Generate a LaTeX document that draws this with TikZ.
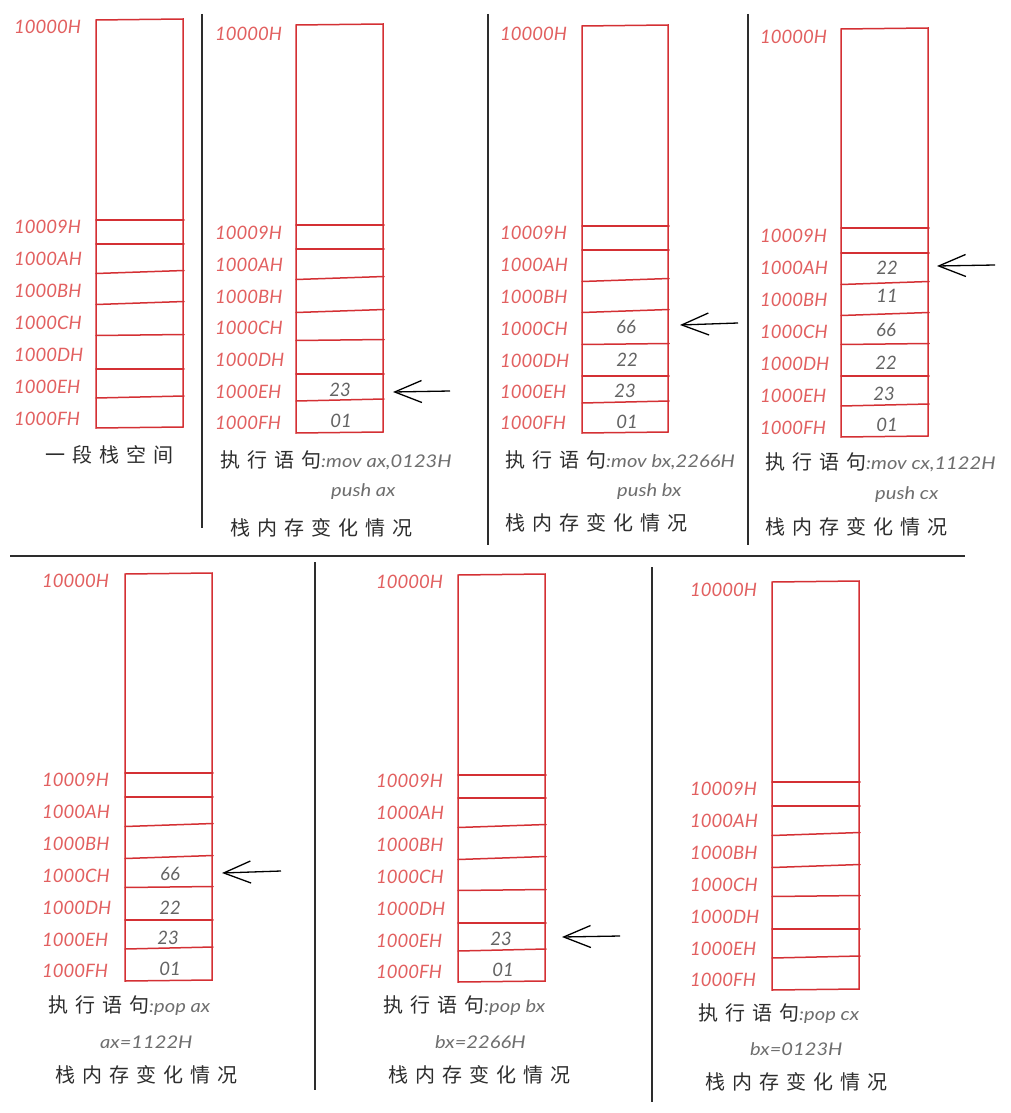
\documentclass[tikz,border=0pt]{standalone}
\usepackage{fontspec}
\usetikzlibrary{arrows.meta}
\newfontfamily\cjk{Noto Sans CJK SC}
\newfontfamily\hand{Lato}
\newfontfamily\handwide{Lato}[FakeStretch=1.15]
\definecolor{cellred}{RGB}{212,48,52}
\definecolor{addrred}{RGB}{226,96,96}
\definecolor{valgray}{RGB}{100,100,100}
\definecolor{inkblack}{RGB}{45,45,45}
\definecolor{codegray}{RGB}{110,110,110}
\newcommand\zh[1]{{\cjk\fontsize{20}{20}\selectfont\color{inkblack}#1}}
\newcommand\cd[1]{{\handwide\itshape\fontsize{17.5}{17.5}\selectfont\color{codegray}#1}}
\newcommand\gp{\hspace{7pt}}
\newcommand\addrtxt[1]{\ifcase#1\or 10000H\or 10009H\or 1000AH\or 1000BH\or 1000CH\or 1000DH\or 1000EH\or 1000FH\fi}
\tikzset{
  cell/.style={draw=cellred, line width=1.5pt, line cap=round},
  addr/.style={anchor=west, inner sep=0pt, text=addrred, font=\hand\itshape\fontsize{18.5}{18.5}\selectfont},
  val/.style={inner sep=0pt, text=valgray, font=\hand\itshape\fontsize{18.5}{18.5}\selectfont},
  capt/.style={anchor=west, inner sep=0pt},
  divider/.style={draw=inkblack, line width=1.4pt},
  harrow/.style={draw=black, line width=1.3pt, -{Straight Barb[length=27pt,width=22pt,line width=1.3pt]}}
}
% #1 name, #2 xl, #3 xr, #4 top, #5 bottom, #6 label x, #7 label ys, #8 line ys
\newcommand\stackpanel[8]{%
  \draw[cell] (#2,#4) -- (#3,#4-1) -- (#3,#5) -- (#2,#5+1) -- cycle;
  \foreach \y [count=\i] in {#8} {
    \pgfmathsetmacro\tl{{0,0,3,3,1,0,2}[\i-1]}
    \draw[cell] (#2,\y+\tl/2) -- (#3+1,\y-\tl/2);
  }
  \foreach \y [count=\i] in {#7} {
    \node[addr] (#1-a\i) at (#6,\y) {\addrtxt{\i}};
  }
}
\begin{document}
\begin{tikzpicture}[x=1pt,y=-1pt]
\useasboundingbox (0,0) rectangle (1010,1113);
\fill[white] (0,0) rectangle (1010,1113);

% dividers
\coordinate (d1a) at (202,14); \coordinate (d1b) at (202,528);
\coordinate (d2a) at (488,14); \coordinate (d2b) at (488,545);
\coordinate (d3a) at (748,14); \coordinate (d3b) at (748,545);
\coordinate (hda) at (10,556); \coordinate (hdb) at (965,556);
\coordinate (d4a) at (315,562); \coordinate (d4b) at (315,1090);
\coordinate (d5a) at (652,567); \coordinate (d5b) at (652,1102);
\draw[divider] (d1a) -- (d1b);
\draw[divider] (d2a) -- (d2b);
\draw[divider] (d3a) -- (d3b);
\draw[divider] (hda) -- (hdb);
\draw[divider] (d4a) -- (d4b);
\draw[divider] (d5a) -- (d5b);

% panels
\stackpanel{p1}{96}{183}{20}{427}{14}{27,227,259,291,323,355,387,419}{220,244,272,303,335,369,397}
\stackpanel{p2}{296}{383}{25}{432}{215}{34,233,265,297,328,360,392,423}{225,249,278,311,340,374,400}
\stackpanel{p3}{582}{668}{26}{432}{500}{34,233,265,297,329,361,392,423}{226,250,280,311,344,376,402}
\stackpanel{p4}{841}{928}{29}{436}{760}{37,236,268,300,332,364,396,428}{228,253,283,314,344,376,405}
\stackpanel{b1}{125}{212}{574}{980}{42}{581,780,812,844,876,908,940,971}{773,797,825,857,887,920,948}
\stackpanel{b2}{458}{545}{575}{981}{376}{582,781,813,845,877,909,941,972}{775,798,826,858,890,923,950}
\stackpanel{b3}{772}{859}{582}{989}{690}{590,789,821,853,885,917,949,980}{782,806,834,866,896,929,957}

% values
\node[val] (p2-v1) at (340,390) {23};
\node[val] (p2-v2) at (341,421) {01};
\node[val] (p3-v1) at (626,327) {66};
\node[val] (p3-v2) at (627,360) {22};
\node[val] (p3-v3) at (625,391) {23};
\node[val] (p3-v4) at (627,422) {01};
\node[val] (p4-v1) at (887,268) {22};
\node[val] (p4-v2) at (887,296) {11};
\node[val] (p4-v3) at (886,330) {66};
\node[val] (p4-v4) at (886,363) {22};
\node[val] (p4-v5) at (884,394) {23};
\node[val] (p4-v6) at (887,425) {01};
\node[val] (b1-v1) at (170,874) {66};
\node[val] (b1-v2) at (170,908) {22};
\node[val] (b1-v3) at (168,938) {23};
\node[val] (b1-v4) at (170,969) {01};
\node[val] (b2-v1) at (501,939) {23};
\node[val] (b2-v2) at (503,970) {01};

% arrows (stack pointer)
\coordinate (p2-tail) at (450,391); \coordinate (p2-tip) at (393,392);
\coordinate (p3-tail) at (738,323); \coordinate (p3-tip) at (680,325);
\coordinate (p4-tail) at (995,265); \coordinate (p4-tip) at (937,266);
\coordinate (b1-tail) at (281,871); \coordinate (b1-tip) at (222,873);
\coordinate (b2-tail) at (620,936); \coordinate (b2-tip) at (562,937);
\draw[harrow] (p2-tail) -- (p2-tip);
\draw[harrow] (p3-tail) -- (p3-tip);
\draw[harrow] (p4-tail) -- (p4-tip);
\draw[harrow] (b1-tail) -- (b1-tip);
\draw[harrow] (b2-tail) -- (b2-tip);

% captions
\node[capt] (p1-c1) at (45,455) {\zh{一\gp 段\gp 栈\gp 空\gp 间}};

\node[capt] (p2-c1) at (220,460) {\zh{执\gp 行\gp 语\gp 句}\cd{:mov ax,0123H}};
\node[capt] (p2-c2) at (331,492) {\cd{push ax}};
\node[capt] (p2-c3) at (230,528) {\zh{栈\gp 内\gp 存\gp 变\gp 化\gp 情\gp 况}};

\node[capt] (p3-c1) at (505,460) {\zh{执\gp 行\gp 语\gp 句}\cd{:mov bx,2266H}};
\node[capt] (p3-c2) at (617,492) {\cd{push bx}};
\node[capt] (p3-c3) at (505,523) {\zh{栈\gp 内\gp 存\gp 变\gp 化\gp 情\gp 况}};

\node[capt] (p4-c1) at (765,462) {\zh{执\gp 行\gp 语\gp 句}\cd{:mov cx,1122H}};
\node[capt] (p4-c2) at (875,495) {\cd{push cx}};
\node[capt] (p4-c3) at (765,527) {\zh{栈\gp 内\gp 存\gp 变\gp 化\gp 情\gp 况}};

\node[capt] (b1-c1) at (48,1006) {\zh{执\gp 行\gp 语\gp 句}\cd{:pop ax}};
\node[capt] (b1-c2) at (100,1042) {\cd{ax=1122H}};
\node[capt] (b1-c3) at (55,1075) {\zh{栈\gp 内\gp 存\gp 变\gp 化\gp 情\gp 况}};

\node[capt] (b2-c1) at (383,1006) {\zh{执\gp 行\gp 语\gp 句}\cd{:pop bx}};
\node[capt] (b2-c2) at (435,1042) {\cd{bx=2266H}};
\node[capt] (b2-c3) at (388,1075) {\zh{栈\gp 内\gp 存\gp 变\gp 化\gp 情\gp 况}};

\node[capt] (b3-c1) at (698,1014) {\zh{执\gp 行\gp 语\gp 句}\cd{:pop cx}};
\node[capt] (b3-c2) at (750,1049) {\cd{bx=0123H}};
\node[capt] (b3-c3) at (705,1082) {\zh{栈\gp 内\gp 存\gp 变\gp 化\gp 情\gp 况}};
\end{tikzpicture}
\end{document}
